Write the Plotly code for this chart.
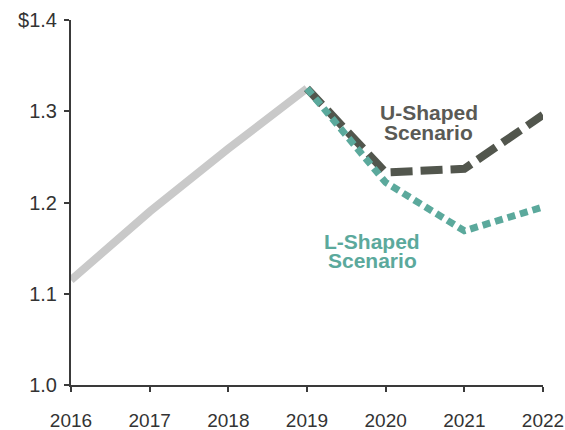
import plotly.graph_objects as go

years_hist = [2016, 2017, 2018, 2019]
values_hist = [1.115, 1.19, 1.259, 1.325]

years_scen = [2019, 2020, 2021, 2022]
u_shaped = [1.325, 1.233, 1.237, 1.296]
l_shaped = [1.325, 1.222, 1.169, 1.195]

x_ticks = [2016, 2017, 2018, 2019, 2020, 2021, 2022]
y_ticks = [1.0, 1.1, 1.2, 1.3, 1.4]
y_tick_text = ["1.0", "1.1", "1.2", "1.3", "$1.4"]

u_label = ["U-Shaped", "Scenario"]
l_label = ["L-Shaped", "Scenario"]

FONT = "Liberation Sans, Arial, Helvetica"

fig = go.Figure()
fig.add_trace(go.Scatter(x=years_hist, y=values_hist, mode="lines",
                         line=dict(color="#c9c9c9", width=8), showlegend=False))
fig.add_trace(go.Scatter(x=years_scen, y=u_shaped, mode="lines",
                         line=dict(color="#52564d", width=8, dash="22px,8px"), showlegend=False))
fig.add_trace(go.Scatter(x=years_scen, y=l_shaped, mode="lines",
                         line=dict(color="#5ba99c", width=7, dash="8px,5px"), showlegend=False))

# label lines sit tighter than plotly's 1.3em line spacing, so each line is its own annotation
for text, yv in zip(u_label, [1.2986, 1.2767]):
    fig.add_annotation(x=2020.55, y=yv, text="<b>%s</b>" % text, showarrow=False,
                       font=dict(color="#5a5a55", size=21, family=FONT))
for text, yv in zip(l_label, [1.1573, 1.1364]):
    fig.add_annotation(x=2019.83, y=yv, text="<b>%s</b>" % text, showarrow=False,
                       font=dict(color="#5ba99c", size=21, family=FONT))

axis_common = dict(showgrid=False, zeroline=False, showline=True, linecolor="#3a3a3a",
                   linewidth=2, ticks="outside", ticklen=5, tickwidth=2, tickcolor="#3a3a3a",
                   automargin=False, ticklabeloverflow="allow")
fig.update_xaxes(range=[2016, 2022], tickvals=x_ticks, ticklabelstandoff=12,
                 tickfont=dict(size=19, color="#333333", family=FONT), **axis_common)
fig.update_yaxes(range=[1.0, 1.4], tickvals=y_ticks, ticktext=y_tick_text,
                 ticklabelstandoff=3,
                 tickfont=dict(size=20, color="#333333", family=FONT), **axis_common)

fig.update_layout(width=565, height=430, margin=dict(l=71, r=22, t=20, b=45),
                  plot_bgcolor="white", paper_bgcolor="white")
fig.write_html("out.html", config={"displayModeBar": False},
               post_script="document.body.style.margin='0';document.body.style.overflow='hidden';")
